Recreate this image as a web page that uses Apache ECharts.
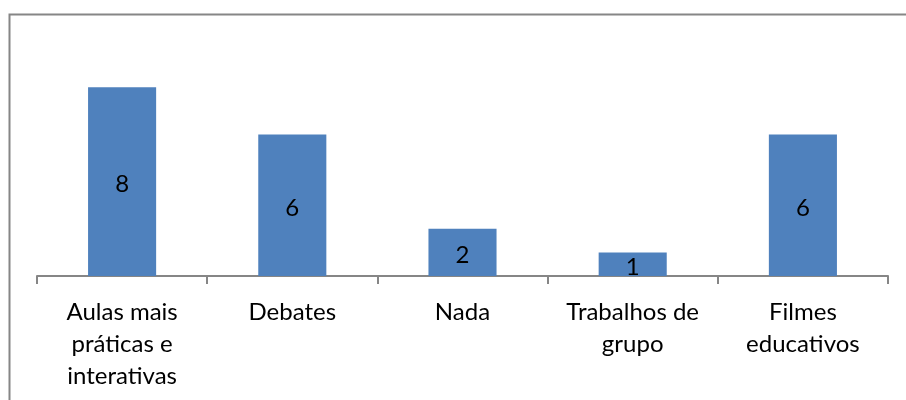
<!DOCTYPE html>
<html><head><meta charset="utf-8">
<script src="https://cdn.jsdelivr.net/npm/echarts@6/dist/echarts.min.js"></script>
<style>html,body{margin:0;padding:0;background:#fff}#c{width:906px;height:400px}</style>
</head><body><div id="c"></div>
<script>
var categories = ["Aulas mais\npráticas e\ninterativas", "Debates", "Nada", "Trabalhos de\ngrupo", "Filmes\neducativos"];
var values = [8, 6, 2, 1, 6];

var chart = echarts.init(document.getElementById('c'), null, {renderer: 'canvas'});
chart.setOption({
  animation: false,
  backgroundColor: '#ffffff',
  graphic: [{
    type: 'rect', left: 7, top: 12,
    shape: {width: 920, height: 420},
    style: {fill: 'none', stroke: '#868686', lineWidth: 2}
  }],
  grid: {left: 37, right: 18, top: 40, bottom: 124, containLabel: false},
  xAxis: {
    type: 'category', data: categories,
    axisLine: {lineStyle: {color: '#868686', width: 2}},
    axisTick: {show: true, length: 8, alignWithLabel: false, lineStyle: {color: '#868686', width: 2}},
    axisLabel: {color: '#000', fontFamily: 'Lato', fontSize: 24, lineHeight: 32, margin: 20, interval: 0}
  },
  yAxis: {type: 'value', min: 0, max: 10, show: false, splitLine: {show: false}},
  series: [{
    type: 'bar', data: values, barWidth: '40%',
    itemStyle: {color: '#4F81BD'},
    label: {show: true, position: 'inside', offset: [0, 3], color: '#000', fontFamily: 'Lato', fontSize: 24}
  }]
});
</script></body></html>
